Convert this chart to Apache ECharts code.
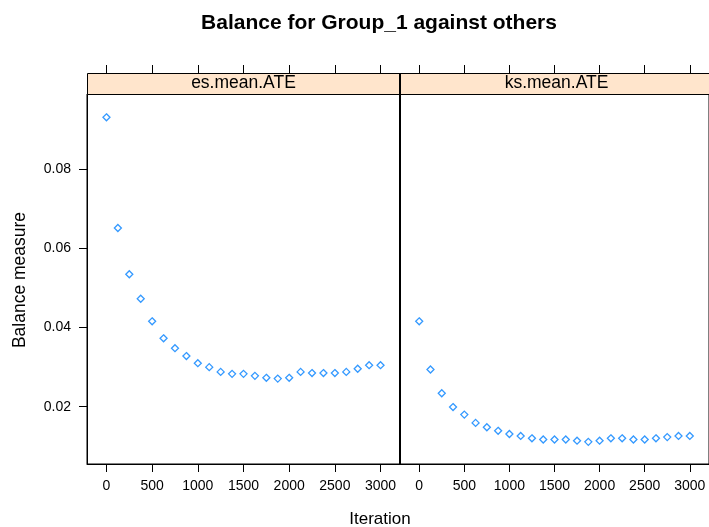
<!DOCTYPE html>
<html>
<head>
<meta charset="utf-8">
<script src="https://cdn.jsdelivr.net/npm/echarts@6/dist/echarts.min.js"></script>
<style>
html,body{margin:0;padding:0;background:#fff;}
#chart{width:709px;height:527px;}
</style>
</head>
<body>
<div id="chart"></div>
<script>
// ---- data ----
var panelNames = ['es.mean.ATE', 'ks.mean.ATE'];
var iterations = [0,125,250,375,500,625,750,875,1000,1125,1250,1375,1500,1625,1750,1875,2000,2125,2250,2375,2500,2625,2750,2875,3000];
var esMeanATE = [0.0932,0.0652,0.0535,0.0473,0.0416,0.0373,0.0348,0.0328,0.0310,0.0300,0.0288,0.0283,0.0283,0.0278,0.0273,0.0271,0.0273,0.0288,0.0285,0.0285,0.0285,0.0288,0.0296,0.0305,0.0305];
var ksMeanATE = [0.0416,0.0294,0.0234,0.0199,0.0180,0.0159,0.0148,0.0139,0.0131,0.0126,0.0120,0.0117,0.0117,0.0117,0.0114,0.0111,0.0114,0.0120,0.0120,0.0117,0.0117,0.0120,0.0123,0.0126,0.0126];
var xTicks = [0,500,1000,1500,2000,2500,3000];
var yTicks = [0.02,0.04,0.06,0.08];
var titleText = 'Balance for Group_1 against others';
var xLabel = 'Iteration';
var yLabel = 'Balance measure';

// ---- layout ----
var FONT = 'Arial, "Liberation Sans", sans-serif';
var panelLeft = [87, 400];
var panelWidth = 313;
var panelTop = 94;
var panelHeight = 370;
var stripH = 21;
var xMin = -213, xMax = 3213;
var yMin = 0.0055, yMax = 0.0991;

function pairs(xs, ys){ return xs.map(function(x,i){ return [x, ys[i]]; }); }
var seriesData = [pairs(iterations, esMeanATE), pairs(iterations, ksMeanATE)];

var grids = [], xAxes = [], yAxes = [], series = [], graphics = [];
for (var p = 0; p < 2; p++) {
  grids.push({left: panelLeft[p], top: panelTop, width: panelWidth, height: panelHeight,
    show: true, borderColor: '#000', borderWidth: 1, backgroundColor: 'transparent', containLabel: false});
  // bottom axis
  xAxes.push({type: 'value', gridIndex: p, position: 'bottom', min: xMin, max: xMax,
    splitLine: {show: false},
    axisLine: {show: true, onZero: false, lineStyle: {color: '#000', width: 1}},
    axisTick: {show: true, inside: false, length: 8, customValues: xTicks, lineStyle: {color: '#000'}},
    axisLabel: {show: true, customValues: xTicks, margin: 15, color: '#000', fontFamily: FONT, fontSize: 14,
      formatter: function(v){ return String(v); }}
  });
  // top axis (ticks above the strip)
  xAxes.push({type: 'value', gridIndex: p, position: 'top', offset: stripH, min: xMin, max: xMax,
    splitLine: {show: false},
    axisLine: {show: false, onZero: false},
    axisTick: {show: true, inside: false, length: 8, customValues: xTicks, lineStyle: {color: '#000'}},
    axisLabel: {show: false}
  });
  yAxes.push({type: 'value', gridIndex: p, position: 'left', min: yMin, max: yMax,
    splitLine: {show: false},
    axisLine: {show: true, onZero: false, lineStyle: {color: '#000', width: 1}},
    axisTick: {show: p === 0, inside: false, length: 8, customValues: yTicks, lineStyle: {color: '#000'}},
    axisLabel: {show: p === 0, customValues: yTicks, margin: 16, color: '#000', fontFamily: FONT, fontSize: 14,
      formatter: function(v){ return v.toFixed(2); }}
  });
  series.push({type: 'scatter', xAxisIndex: p * 2, yAxisIndex: p, data: seriesData[p],
    symbol: 'diamond', symbolSize: 7,
    itemStyle: {color: '#fff', borderColor: '#0080ff', borderWidth: 1.3},
    emphasis: {disabled: true}, animation: false});
  // strip
  graphics.push({type: 'rect', z: 10,
    shape: {x: panelLeft[p] + 0.5, y: panelTop - stripH + 0.5, width: panelWidth, height: stripH},
    style: {fill: '#ffe5cc', stroke: '#000', lineWidth: 1}});
  graphics.push({type: 'text', z: 11,
    x: panelLeft[p] + panelWidth / 2, y: panelTop - stripH / 2,
    style: {text: panelNames[p], fill: '#000', font: '17.5px ' + FONT, textAlign: 'center', textVerticalAlign: 'middle'}});
}
// panel divider (double border)
graphics.push({type: 'line', z: 12, shape: {x1: 400, y1: panelTop - stripH, x2: 400, y2: panelTop + panelHeight},
  style: {stroke: '#000', lineWidth: 2}});
// titles
graphics.push({type: 'text', z: 20, x: 379, y: 23,
  style: {text: titleText, fill: '#000', font: 'bold 21px ' + FONT, textAlign: 'center', textVerticalAlign: 'middle'}});
graphics.push({type: 'text', z: 20, x: 380, y: 519,
  style: {text: xLabel, fill: '#000', font: '17px ' + FONT, textAlign: 'center', textVerticalAlign: 'middle'}});
graphics.push({type: 'text', z: 20, x: 20, y: 280, rotation: Math.PI / 2,
  style: {text: yLabel, fill: '#000', font: '17.5px ' + FONT, textAlign: 'center', textVerticalAlign: 'middle'}});

var chart = echarts.init(document.getElementById('chart'), null, {renderer: 'canvas'});
chart.setOption({
  animation: false,
  backgroundColor: '#fff',
  grid: grids,
  xAxis: xAxes,
  yAxis: yAxes,
  series: series,
  graphic: graphics,
  tooltip: {show: false}
});
</script>
</body>
</html>
